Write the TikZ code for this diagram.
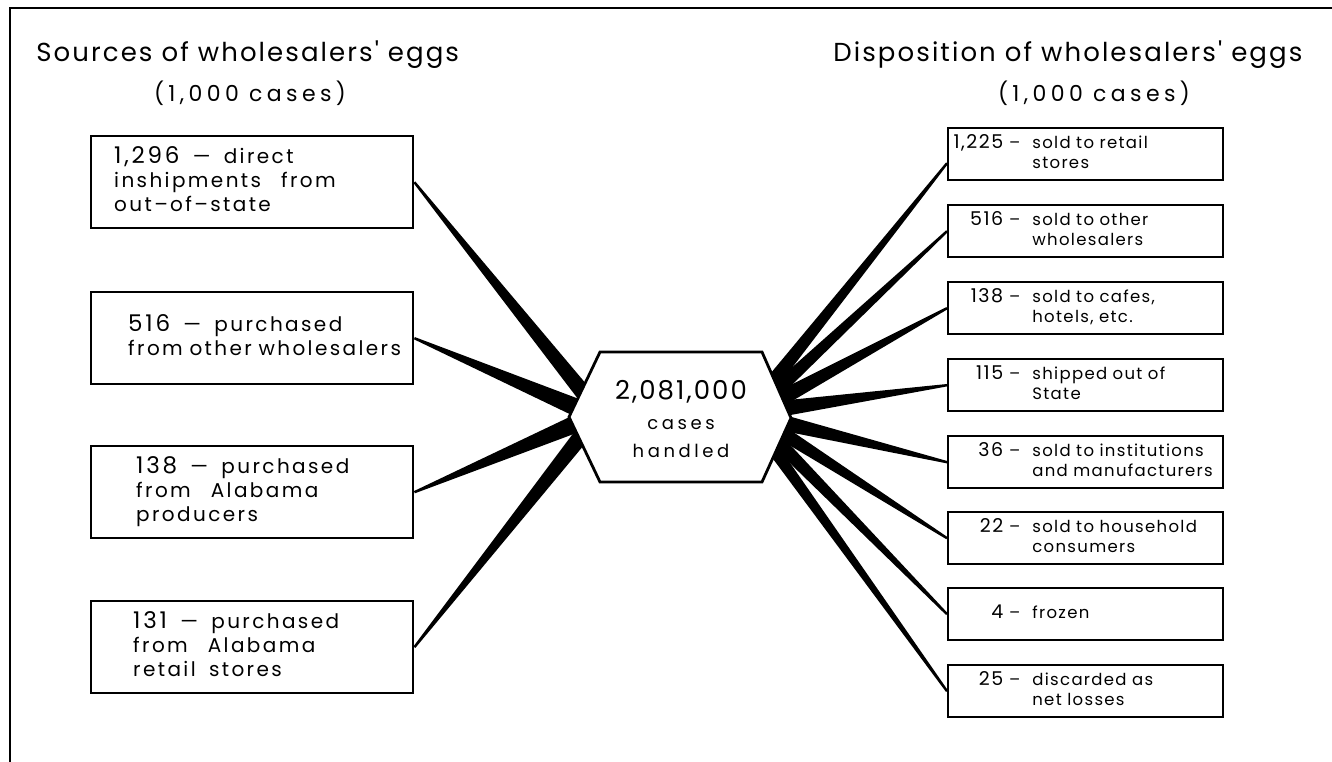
\documentclass[tikz,border=0pt]{standalone}
\usepackage{fontspec}
\setmainfont{Poppins}
\newfontfamily\lettering{Poppins}[LetterSpace=8]
\newfontfamily\boxlettering{Poppins}[LetterSpace=12]
\newfontfamily\widelettering{Poppins}[LetterSpace=20]
\usetikzlibrary{calc}

\tikzset{every picture/.style={line width=0.75pt}}
\tikzset{
  frameline/.style={line width=2pt},
  titletext/.style={inner sep=0pt, font=\lettering\fontsize{26}{30}\selectfont},
  unittext/.style={inner sep=0pt, font=\widelettering\fontsize{22}{26}\selectfont},
  srcbox/.style={draw, line width=2.4pt, fill=white, anchor=north west, minimum width=322pt, minimum height=92pt,
    text width=318pt, inner xsep=2pt, inner ysep=0pt, align=left, font=\boxlettering\fontsize{20}{24}\selectfont},
  dispbox/.style={draw, line width=2.4pt, fill=white, anchor=north west, minimum width=275pt, minimum height=52pt,
    text width=265pt, inner xsep=5pt, inner ysep=0pt, align=left, font=\lettering\fontsize{16.5}{20}\selectfont},
  hexline/.style={line width=2.8pt, fill=white, line join=miter},
  hubtext/.style={inner sep=0pt, align=center, font=\widelettering\fontsize{18}{30}\selectfont},
}

% number and text of a source box
\newcommand{\srcitem}[4]{\noindent\hspace*{#1}\begin{tabular}{@{}l@{}}{\fontsize{23}{24}\selectfont #2}\ \ —\ \ #3\\#4\end{tabular}}
% number and text of a disposition box
\newcommand{\dispitem}[2]{\noindent\mbox{\makebox[50pt][r]{\fontsize{19}{20}\selectfont #1}\hspace{6pt}–\hspace{12pt}\begin{tabular}[t]{@{}l@{}}#2\end{tabular}}}
% tapered flow band: thin at #1, #3 wide at #2
\newcommand{\flowwedge}[3]{%
  \fill ($(#1)!1.2pt!90:(#2)$) -- ($(#1)!1.2pt!-90:(#2)$)
    -- ($($(#2)!-7pt!(#1)$)!#3!90:(#1)$) -- ($($(#2)!-7pt!(#1)$)!#3!-90:(#1)$) -- cycle;}

\begin{document}
\begin{tikzpicture}[x=1pt,y=-1pt]
\useasboundingbox (0,0) rectangle (1332,762);

% Frame
\draw[frameline] (10,762) -- (10,8) -- (1332,8);

% Titles
\node[titletext, anchor=base west] (srcTitle) at (36,62) {Sources of wholesalers' eggs};
\node[unittext, anchor=base] (srcUnit) at (250,102) {(1,000 cases)};
\node[titletext, anchor=base west] (dispTitle) at (833,62) {Disposition of wholesalers' eggs};
\node[unittext, anchor=base] (dispUnit) at (1094,102) {(1,000 cases)};

% Source boxes
\node[srcbox] (src1) at (90,135) {\srcitem{21pt}{1,296}{direct}{inshipments\quad from\\out–of–state}};
\node[srcbox] (src2) at (90,291) {\srcitem{35pt}{516}{purchased}{from other wholesalers}};
\node[srcbox] (src3) at (90,445) {\srcitem{43pt}{138}{purchased}{from\quad Alabama\\producers}};
\node[srcbox] (src4) at (90,600) {\srcitem{40pt}{131}{purchased}{from\quad Alabama\\retail\ \ stores}};

% Disposition boxes
\node[dispbox] (dst1) at (947,127) {\dispitem{1,225}{sold to retail\\stores}};
\node[dispbox] (dst2) at (947,204) {\dispitem{516}{sold to other\\wholesalers}};
\node[dispbox] (dst3) at (947,281) {\dispitem{138}{sold to cafes,\\hotels, etc.}};
\node[dispbox] (dst4) at (947,358) {\dispitem{115}{shipped out of\\State}};
\node[dispbox] (dst5) at (947,435) {\dispitem{36}{sold to institutions\\and manufacturers}};
\node[dispbox] (dst6) at (947,511) {\dispitem{22}{sold to household\\consumers}};
\node[dispbox] (dst7) at (947,587) {\dispitem{4}{frozen}};
\node[dispbox] (dst8) at (947,664) {\dispitem{25}{discarded as\\net losses}};

% Hexagon corners and band ends
\coordinate (hexW) at (569,417);
\coordinate (hexNW) at (600,352);
\coordinate (hexNE) at (762,352);
\coordinate (hexE) at (791,418);
\coordinate (hexSE) at (762,482);
\coordinate (hexSW) at (600,482);
\coordinate (in1) at (581,390);
\coordinate (in2) at (573,406);
\coordinate (in3) at (573,425);
\coordinate (in4) at (578,440);
\coordinate (out1) at (774,380);
\coordinate (out2) at (778,389);
\coordinate (out3) at (782,398);
\coordinate (out4) at (786,408);
\coordinate (out5) at (788,424);
\coordinate (out6) at (784,434);
\coordinate (out7) at (780,444);
\coordinate (out8) at (776,453);

% Inflow bands
\flowwedge{src1.east}{in1}{8pt}
\flowwedge{src2.east}{in2}{9pt}
\flowwedge{src3.east}{in3}{9pt}
\flowwedge{src4.east}{in4}{8pt}

% Outflow bands
\flowwedge{$(dst1.west)+(0,9)$}{out1}{7pt}
\flowwedge{dst2.west}{out2}{7pt}
\flowwedge{dst3.west}{out3}{8pt}
\flowwedge{dst4.west}{out4}{8pt}
\flowwedge{dst5.west}{out5}{8pt}
\flowwedge{dst6.west}{out6}{7pt}
\flowwedge{dst7.west}{out7}{7pt}
\flowwedge{dst8.west}{out8}{6pt}

% Hexagon
\draw[hexline] (hexW) -- (hexNW) -- (hexNE) -- (hexE) -- (hexSE) -- (hexSW) -- cycle;
\node[hubtext] (hub) at (681,419) {{\lettering\fontsize{26}{28}\selectfont 2,081,000}\\cases\\[-2pt]handled};

\end{tikzpicture}
\end{document}
